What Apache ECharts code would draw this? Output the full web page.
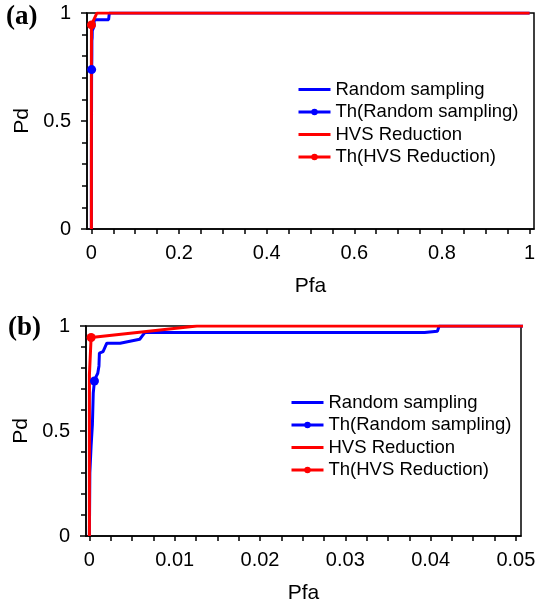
<!DOCTYPE html>
<html lang="en">
<head>
    <meta charset="UTF-8">
    <script src="https://cdn.jsdelivr.net/npm/echarts@6/dist/echarts.min.js"></script>
    <title>ROC curves</title>
    <style>
        html, body {margin: 0; padding: 0; background: #fff;}
    </style>
</head>
<body>
<div id="chart" style="width: 540px;height: 605px;"></div>

<script>
    // Random sampling ROC curve (Pfa, Pd)
    const randPfa = [0, 0.00005, 0.0002, 0.00035, 0.00045, 0.00059, 0.0008, 0.00098, 0.00112, 0.00117, 0.0016, 0.00175,
        0.00204, 0.0036, 0.0038, 0.0059, 0.0062, 0.0065, 0.0393, 0.0395, 0.0408, 0.041, 1];
    const randPd = [0, 0.3, 0.43, 0.53, 0.68, 0.738, 0.76, 0.775, 0.81, 0.871, 0.878, 0.885,
        0.918, 0.918, 0.926, 0.937, 0.953, 0.969, 0.969, 0.975, 0.975, 1, 1];

    // HVS reduction ROC curve
    const hvsPfa = [0, 0, 0.0002, 0.0002, 0.0126, 1];
    const hvsPd = [0, 0.767, 0.767, 0.945, 1, 1];

    // threshold points
    const thRand = [0.00059, 0.738];
    const thHvs = [0.0002, 0.945];

    // axis ticks / labels
    const labelsA = [0, 0.2, 0.4, 0.6, 0.8, 1];
    const ticksA = [0, 0.05, 0.1, 0.15, 0.2, 0.25, 0.3, 0.35, 0.4, 0.45, 0.5, 0.55, 0.6, 0.65, 0.7, 0.75, 0.8, 0.85, 0.9, 0.95, 1];
    const labelsB = [0, 0.01, 0.02, 0.03, 0.04, 0.05];
    const ticksB = [0, 0.0025, 0.005, 0.0075, 0.01, 0.0125, 0.015, 0.0175, 0.02, 0.0225, 0.025, 0.0275, 0.03, 0.0325,
        0.035, 0.0375, 0.04, 0.0425, 0.045, 0.0475, 0.05];
    const names = ["Random sampling", "Th(Random sampling)", "HVS Reduction", "Th(HVS Reduction)"];

    const FONT = "Liberation Sans";

    function pairs(xs, ys) {
        let out = [];
        for (let i = 0; i < xs.length; i++) out.push([xs[i], ys[i]]);
        return out;
    }

    function fmt(v) {
        return String(+(+v).toFixed(4));
    }

    function xAxis(idx, min, max, ticks, labels) {
        return {
            gridIndex: idx, type: 'value', min: min, max: max,
            axisLine: {onZero: false, lineStyle: {color: '#000', width: 1.5}},
            axisTick: {length: 5, customValues: ticks, lineStyle: {color: '#000', width: 1.5}},
            axisLabel: {customValues: labels, fontSize: 20, color: '#000', fontFamily: FONT, margin: 14, formatter: fmt},
            splitLine: {show: false},
            name: 'Pfa', nameLocation: 'middle', nameGap: 47,
            nameTextStyle: {fontSize: 21, color: '#000', fontFamily: FONT}
        };
    }

    function yAxis(idx) {
        return {
            gridIndex: idx, type: 'value', min: 0, max: 1, interval: 0.5,
            axisLine: {onZero: false, lineStyle: {color: '#000', width: 1.5}},
            axisTick: {length: 6, lineStyle: {color: '#000', width: 1.5}},
            minorTick: {show: true, splitNumber: 5, length: 5, lineStyle: {color: '#000', width: 1.5}},
            axisLabel: {fontSize: 20, color: '#000', fontFamily: FONT, margin: 16, formatter: fmt},
            splitLine: {show: false},
            name: 'Pd', nameLocation: 'middle', nameGap: 48, nameRotate: 90,
            nameTextStyle: {fontSize: 21, color: '#000', fontFamily: FONT}
        };
    }

    function seriesFor(idx) {
        return [
            {
                name: names[0], type: 'line', xAxisIndex: idx, yAxisIndex: idx, symbol: 'none',
                data: pairs(randPfa, randPd), lineStyle: {color: '#0000ff', width: 3}, itemStyle: {color: '#0000ff'}
            },
            {
                name: names[1], type: 'line', xAxisIndex: idx, yAxisIndex: idx, symbol: 'circle', symbolSize: 9, z: 4,
                data: [thRand], lineStyle: {color: '#0000ff', width: 3}, itemStyle: {color: '#0000ff'}
            },
            {
                name: names[2], type: 'line', xAxisIndex: idx, yAxisIndex: idx, symbol: 'none', z: 3,
                data: pairs(hvsPfa, hvsPd), lineStyle: {color: '#ff0000', width: 3}, itemStyle: {color: '#ff0000'}
            },
            {
                name: names[3], type: 'line', xAxisIndex: idx, yAxisIndex: idx, symbol: 'circle', symbolSize: 9, z: 4,
                data: [thHvs], lineStyle: {color: '#ff0000', width: 3}, itemStyle: {color: '#ff0000'}
            }
        ];
    }

    function legend(left, top) {
        return {
            data: [
                {name: names[0], itemStyle: {opacity: 0}},
                {name: names[1]},
                {name: names[2], itemStyle: {opacity: 0}},
                {name: names[3]}
            ],
            orient: 'vertical', left: left, top: top,
            itemWidth: 32, itemHeight: 8, itemGap: 3.5, padding: 0,
            lineStyle: {width: 3},
            textStyle: {fontSize: 18.5, color: '#000', fontFamily: FONT}
        };
    }

    const myChart = echarts.init(document.getElementById('chart'));

    myChart.setOption({
        animation: false,
        title: [
            {text: '(a)', left: 6, top: 4, padding: 0, textStyle: {fontSize: 27, fontWeight: 'bold', fontFamily: 'Liberation Serif', color: '#000'}},
            {text: '(b)', left: 8, top: 315, padding: 0, textStyle: {fontSize: 27, fontWeight: 'bold', fontFamily: 'Liberation Serif', color: '#000'}}
        ],
        grid: [
            {left: 87, top: 13, width: 447, height: 216, show: true, borderColor: '#000', borderWidth: 1.5},
            {left: 86, top: 326, width: 435, height: 210, show: true, borderColor: '#000', borderWidth: 1.5}
        ],
        xAxis: [
            xAxis(0, -0.01, 1.01, ticksA, labelsA),
            xAxis(1, -0.0004, 0.0506, ticksB, labelsB)
        ],
        yAxis: [yAxis(0), yAxis(1)],
        legend: [legend(297, 80), legend(290, 393)],
        series: seriesFor(0).concat(seriesFor(1))
    });
</script>
</body>
</html>
